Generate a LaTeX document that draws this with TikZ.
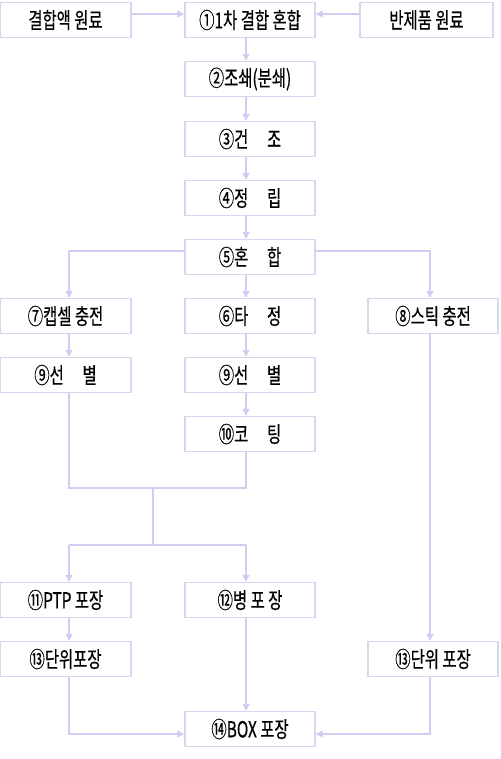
\documentclass[tikz,border=0pt]{standalone}
\usepackage{fontspec}
\setmainfont{Noto Sans CJK KR}[FakeStretch=0.7, FakeBold=0.4]
\usetikzlibrary{arrows.meta}

\definecolor{boxline}{RGB}{214, 214, 238}
\definecolor{flowline}{RGB}{206, 206, 244}

\begin{document}
\begin{tikzpicture}[x=1pt, y=-1pt,
    stepbox/.style={draw=boxline, line width=1.4pt, fill=white,
      minimum width=130pt, minimum height=35pt, inner sep=0pt,
      font=\fontsize{22}{24}\selectfont},
    flow/.style={draw=flowline, line width=1.3pt},
    flowarr/.style={flow, -{Triangle[width=7pt, length=7pt]}}]
      \def\gp{\hspace{0.85em}}
      \useasboundingbox (0,0) rectangle (500,759);

      % column lines
      \coordinate (colL) at (69,0);
      \coordinate (colC) at (246,0);
      \coordinate (colR) at (430,0);
      \coordinate (colM) at (153,0);
      \coordinate (rowA) at (0,488);
      \coordinate (rowB) at (0,545);

      % top row
      \node[stepbox, minimum width=131pt] (raw1) at (65.5,20) {결합액 원료};
      \node[stepbox] (mix1) at (250,20) {①1차 결합 혼합};
      \node[stepbox, minimum width=133pt] (raw2) at (426.5,20) {반제품 원료};

      % centre chain
      \node[stepbox] (crush) at (250,79) {②조쇄(분쇄)};
      \node[stepbox] (dry) at (250,139) {③건\gp 조};
      \node[stepbox] (gran) at (250,198) {④정\gp 립};
      \node[stepbox] (mix5) at (250,257) {⑤혼\gp 합};

      % three branches
      \node[stepbox, minimum width=131pt] (cap7) at (65.5,316) {⑦캡셀 충전};
      \node[stepbox] (tab6) at (250,316) {⑥타\gp 정};
      \node[stepbox] (stick8) at (433,316) {⑧스틱 충전};
      \node[stepbox, minimum width=131pt] (sel9a) at (65.5,375) {⑨선\gp 별};
      \node[stepbox] (sel9b) at (250,375) {⑨선\gp 별};
      \node[stepbox] (coat10) at (250,434) {⑩코\gp 팅};

      % packing
      \node[stepbox, minimum width=131pt] (ptp11) at (65.5,600) {⑪PTP 포장};
      \node[stepbox] (bot12) at (250,600) {⑫병 포 장};
      \node[stepbox, minimum width=131pt] (unit13a) at (65.5,659) {⑬단위포장};
      \node[stepbox] (unit13b) at (433,659) {⑬단위 포장};
      \node[stepbox] (box14) at (250,729) {⑭BOX 포장};

      % connectors
      \draw[flowarr] ([yshift=6]raw1.east) -- ([yshift=6]mix1.west);
      \draw[flowarr] ([yshift=6]raw2.west) -- ([yshift=6]mix1.east);
      \foreach \a/\b in {mix1/crush, crush/dry, dry/gran, gran/mix5,
                         mix5/tab6, tab6/sel9b, sel9b/coat10} {
        \draw[flowarr] (\a.south -| colC) -- (\b.north -| colC);
      }
      \draw[flowarr] ([yshift=6]mix5.west) -| (cap7.north -| colL);
      \draw[flowarr] ([yshift=6]mix5.east) -| (stick8.north -| colR);
      \draw[flowarr] (cap7.south -| colL) -- (sel9a.north -| colL);

      % merge of left and centre
      \draw[flow] (sel9a.south -| colL) |- (rowA -| colC) -- (coat10.south -| colC);
      \draw[flow] (rowA -| colM) -- (rowB -| colM);
      \draw[flow] (rowB -| colL) -- (rowB -| colC);
      \draw[flowarr] (rowB -| colL) -- (ptp11.north -| colL);
      \draw[flowarr] (rowB -| colC) -- (bot12.north -| colC);
      \draw[flowarr] (ptp11.south -| colL) -- (unit13a.north -| colL);
      \draw[flowarr] (stick8.south -| colR) -- (unit13b.north -| colR);

      % into the box
      \draw[flowarr] (bot12.south -| colC) -- (box14.north -| colC);
      \draw[flowarr] (unit13a.south -| colL) |- ([yshift=-5]box14.west);
      \draw[flowarr] (unit13b.south -| colR) |- ([yshift=-5]box14.east);
    \end{tikzpicture}
\end{document}
